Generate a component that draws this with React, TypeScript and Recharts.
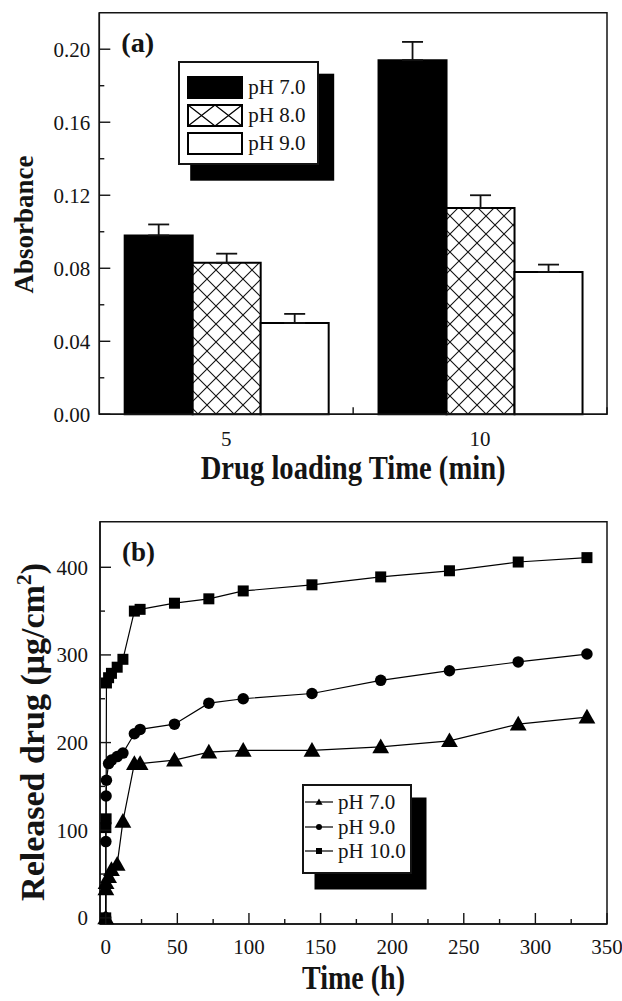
import React from 'react';
import {
  BarChart,
  Bar,
  ErrorBar,
  LineChart,
  Line,
  XAxis,
  YAxis,
  Legend,
  Label,
  ReferenceArea,
} from 'recharts';

// (a) absorbance vs drug loading time
const loadingTimes = ['5', '10'];
const barNames = ['pH 7.0', 'pH 8.0', 'pH 9.0'];
const absPh7 = [0.098, 0.194];
const absPh7Err = [0.006, 0.01];
const absPh8 = [0.083, 0.113];
const absPh8Err = [0.005, 0.007];
const absPh9 = [0.05, 0.078];
const absPh9Err = [0.005, 0.004];
const absTicks = [0, 0.02, 0.04, 0.06, 0.08, 0.1, 0.12, 0.14, 0.16, 0.18, 0.2];

// (b) released drug vs time
const lineNames = ['pH 7.0', 'pH 9.0', 'pH 10.0'];
const ph7Time = [0, 0.1, 0.25, 2, 4, 8, 12, 20, 24, 48, 72, 96, 144, 192, 240, 288, 336];
const ph7Release = [0, 33, 40, 47, 55, 61, 110, 176, 176, 180, 189, 191, 191, 195, 202, 221, 229];
const ph9Time = [0, 0.1, 0.25, 0.5, 2, 4, 8, 12, 20, 24, 48, 72, 96, 144, 192, 240, 288, 336];
const ph9Release = [0, 87, 139, 157, 176, 180, 184, 188, 210, 215, 221, 245, 250, 256, 271, 282, 292, 301];
const ph10Time = [0, 0.1, 0.25, 0.5, 2, 4, 8, 12, 20, 24, 48, 72, 96, 144, 192, 240, 288, 336];
const ph10Release = [0, 103, 113, 268, 274, 279, 286, 295, 350, 352, 359, 364, 373, 380, 389, 396, 406, 411];
const hourTicks = [0, 25, 50, 75, 100, 125, 150, 175, 200, 225, 250, 275, 300, 325, 350];
const releaseTicks = [0, 50, 100, 150, 200, 250, 300, 350, 400];

const SERIF = '"Liberation Serif", "Times New Roman", serif';
const INK = '#141414';

const barRows = loadingTimes.map((time, i) => ({
  time,
  ph7: absPh7[i],
  e7: [0, absPh7Err[i]],
  ph8: absPh8[i],
  e8: [0, absPh8Err[i]],
  ph9: absPh9[i],
  e9: [0, absPh9Err[i]],
}));

const zip = (ts: number[], vs: number[]) => ts.map((t, i) => ({ t, v: vs[i] }));
const ph7Rows = zip(ph7Time, ph7Release);
const ph9Rows = zip(ph9Time, ph9Release);
const ph10Rows = zip(ph10Time, ph10Release);

// keep legend rows in the order the series were listed, not alphabetical
const inOrder = (payload: any[] | undefined, names: string[]) =>
  names.map((n) => (payload || []).find((p) => p.value === n)).filter(Boolean);

// ticks point inwards, labels sit outside
const AbsTick = ({ x, y, payload }: any) => {
  const v = payload.value;
  const major = Math.round(v * 100) % 4 === 0;
  return (
    <g>
      <line x1={x} x2={x + (major ? 11 : 5)} y1={y} y2={y} stroke={INK} strokeWidth={1.4} />
      {major && (
        <text x={x - 9} y={y} dy="0.36em" textAnchor="end" fontFamily={SERIF} fontSize={21} fill={INK}>
          {v.toFixed(2)}
        </text>
      )}
    </g>
  );
};

const TimeTick = ({ x, y, payload }: any) => {
  const edge = payload.offset != null ? x + payload.offset : null;
  return (
    <g>
      {edge != null && <line x1={edge} x2={edge} y1={y} y2={y - 7} stroke={INK} strokeWidth={1.4} />}
      <text x={x} y={y + 24} dy="0.36em" textAnchor="middle" fontFamily={SERIF} fontSize={21} fill={INK}>
        {payload.value}
      </text>
    </g>
  );
};

const ReleaseTick = ({ x, y, payload }: any) => {
  const v = payload.value;
  const major = v % 100 === 0;
  return (
    <g>
      <line x1={x} x2={x + (major ? 11 : 5)} y1={y} y2={y} stroke={INK} strokeWidth={1.4} />
      {major && (
        <text x={x - 12} y={y} dy="0.36em" textAnchor="end" fontFamily={SERIF} fontSize={21} fill={INK}>
          {v}
        </text>
      )}
    </g>
  );
};

const HourTick = ({ x, y, payload }: any) => {
  const v = payload.value;
  const major = v % 50 === 0;
  return (
    <g>
      <line x1={x} x2={x} y1={y} y2={y - (major ? 11 : 5)} stroke={INK} strokeWidth={1.4} />
      {major && (
        <text x={x} y={y + 22} dy="0.36em" textAnchor="middle" fontFamily={SERIF} fontSize={21} fill={INK}>
          {v}
        </text>
      )}
    </g>
  );
};

const bottomTitle = (text: string, dy: number, len: number) => (props: any) => {
  const { x, y, width } = props.viewBox;
  return (
    <text
      x={x + width / 2}
      y={y + dy}
      dy="0.36em"
      textAnchor="middle"
      fontFamily={SERIF}
      fontWeight="bold"
      fontSize={33}
      textLength={len}
      lengthAdjust="spacingAndGlyphs"
      fill={INK}
    >
      {text}
    </text>
  );
};

const sideTitle = (content: React.ReactNode, cxOff: number, cyOff: number, size: number) => (props: any) => {
  const { x, y, height } = props.viewBox;
  const cx = x + cxOff;
  const cy = y + height / 2 + cyOff;
  return (
    <text
      x={cx}
      y={cy}
      dy="0.36em"
      textAnchor="middle"
      transform={`rotate(-90, ${cx}, ${cy})`}
      fontFamily={SERIF}
      fontWeight="bold"
      fontSize={size}
      fill={INK}
    >
      {content}
    </text>
  );
};

const panelTag = (text: string) => (props: any) => {
  const { x, y } = props.viewBox;
  return (
    <text
      x={x + 22}
      y={y + 29}
      dy="0.36em"
      fontFamily={SERIF}
      fontWeight="bold"
      fontSize={28}
      textLength={33}
      lengthAdjust="spacingAndGlyphs"
      fill={INK}
    >
      {text}
    </text>
  );
};

const BarSwatch = ({ kind }: { kind: number }) => (
  <svg width={56} height={23} style={{ display: 'block' }}>
    <rect x={1} y={1} width={54} height={21} fill={kind === 0 ? '#000' : '#fff'} stroke="#000" strokeWidth={2} />
    {kind === 1 && <path d="M1 1L28 22M28 1L1 22M28 1L55 22M55 1L28 22" stroke="#000" strokeWidth={1.2} />}
  </svg>
);

const BarKey = ({ payload }: any) => (
  <div
    style={{
      width: 141,
      height: 104,
      boxSizing: 'border-box',
      border: `2px solid ${INK}`,
      background: '#fff',
      boxShadow: '13.7px 14.2px 0 1.5px #000',
      paddingTop: 13,
      paddingLeft: 7,
    }}
  >
    {inOrder(payload, barNames).map((item: any) => (
      <div key={item.value} style={{ display: 'flex', alignItems: 'center', height: 23, marginBottom: 5 }}>
        <BarSwatch kind={barNames.indexOf(item.value)} />
        <span style={{ marginLeft: 5, fontFamily: SERIF, fontSize: 21, color: INK, lineHeight: '23px' }}>
          {item.value}
        </span>
      </div>
    ))}
  </div>
);

const marker = (kind: number, cx: number, cy: number, s: number, key?: any) => {
  if (kind === 0)
    return <polygon key={key} points={`${cx},${cy - s * 0.6} ${cx + s * 0.6},${cy + s * 0.45} ${cx - s * 0.6},${cy + s * 0.45}`} fill="#000" />;
  if (kind === 1) return <circle key={key} cx={cx} cy={cy} r={s * 0.5} fill="#000" />;
  return <rect key={key} x={cx - s / 2} y={cy - s / 2} width={s} height={s} fill="#000" />;
};

const dotOf = (kind: number, size: number) => (p: any) =>
  p.cx == null || p.cy == null ? <g key={p.index} /> : marker(kind, p.cx, p.cy, size, p.index);

const LineKey = ({ payload }: any) => (
  <div
    style={{
      width: 110,
      height: 90,
      boxSizing: 'border-box',
      border: `2px solid ${INK}`,
      background: '#fff',
      boxShadow: '13.5px 14.5px 0 1px #000',
      paddingTop: 4,
      paddingLeft: 1,
    }}
  >
    {inOrder(payload, lineNames).map((item: any) => (
      <div key={item.value} style={{ display: 'flex', alignItems: 'center', height: 24.5 }}>
        <svg width={28} height={24} style={{ display: 'block' }}>
          <line x1={0} x2={28} y1={12} y2={12} stroke="#000" strokeWidth={1.2} />
          {marker(lineNames.indexOf(item.value), 14, 12, 6)}
        </svg>
        <span style={{ marginLeft: 5, fontFamily: SERIF, fontSize: 21, color: INK, lineHeight: '24px' }}>
          {item.value}
        </span>
      </div>
    ))}
  </div>
);

const App = () => (
  <div style={{ position: 'absolute', left: 0, top: 0, width: 622, height: 1001, background: '#fff' }}>
    <div style={{ position: 'absolute', left: 0, top: 0 }}>
      <BarChart
        width={622}
        height={500}
        data={barRows}
        margin={{ top: 12.7, right: 15, left: 0, bottom: 25.7 }}
        barCategoryGap="10%"
        barGap={0}
      >
        <defs>
          <pattern id="xhatch" patternUnits="userSpaceOnUse" width={18} height={18}>
            <rect width={18} height={18} fill="#fff" />
            <path d="M0 0L18 18M18 0L0 18" stroke="#111" strokeWidth={1.1} />
          </pattern>
        </defs>
        <XAxis
          dataKey="time"
          height={60}
          tickSize={0}
          tickMargin={0}
          tickLine={false}
          interval={0}
          axisLine={{ stroke: INK, strokeWidth: 1.5 }}
          tick={<TimeTick />}
        >
          <Label content={bottomTitle('Drug loading Time (min)', 52.5, 305)} />
        </XAxis>
        <YAxis
          type="number"
          width={99.3}
          domain={[0, 0.22]}
          ticks={absTicks}
          interval={0}
          tickSize={0}
          tickMargin={0}
          tickLine={false}
          axisLine={{ stroke: INK, strokeWidth: 1.5 }}
          tick={<AbsTick />}
        >
          <Label content={sideTitle('Absorbance', 23, 11, 27)} />
        </YAxis>
        <ReferenceArea y1={0} y2={0.22} fill="none" stroke={INK} strokeWidth={1.5}>
          <Label content={panelTag('(a)')} />
        </ReferenceArea>
        <Legend
          layout="vertical"
          align="center"
          verticalAlign="middle"
          wrapperStyle={{ left: 178.3, top: 60.7, width: 141, height: 104 }}
          content={(props: any) => <BarKey payload={props.payload} />}
        />
        <Bar dataKey="ph7" name={barNames[0]} fill="#000" stroke="#000" strokeWidth={2} isAnimationActive={false}>
          <ErrorBar dataKey="e7" width={10.5} stroke="#111" strokeWidth={1.8} direction="y" />
        </Bar>
        <Bar dataKey="ph8" name={barNames[1]} fill="url(#xhatch)" stroke="#000" strokeWidth={2} isAnimationActive={false}>
          <ErrorBar dataKey="e8" width={10.5} stroke="#111" strokeWidth={1.8} direction="y" />
        </Bar>
        <Bar dataKey="ph9" name={barNames[2]} fill="#fff" stroke="#000" strokeWidth={2} isAnimationActive={false}>
          <ErrorBar dataKey="e9" width={10.5} stroke="#111" strokeWidth={1.8} direction="y" />
        </Bar>
      </BarChart>
    </div>

    <div style={{ position: 'absolute', left: 0, top: 500 }}>
      <LineChart width={622} height={501} margin={{ top: 21.7, right: 15, left: 0, bottom: 17 }}>
        <XAxis
          type="number"
          dataKey="t"
          domain={[-4, 350]}
          ticks={hourTicks}
          interval={0}
          height={60}
          tickSize={0}
          tickMargin={0}
          tickLine={false}
          axisLine={{ stroke: INK, strokeWidth: 1.5 }}
          tick={<HourTick />}
        >
          <Label content={bottomTitle('Time (h)', 53, 103)} />
        </XAxis>
        <YAxis
          type="number"
          dataKey="v"
          width={100}
          domain={[-7, 452]}
          ticks={releaseTicks}
          interval={0}
          tickSize={0}
          tickMargin={0}
          tickLine={false}
          axisLine={{ stroke: INK, strokeWidth: 1.5 }}
          tick={<ReleaseTick />}
        >
          <Label
            content={sideTitle(
              <>
                Released drug (μg/cm
                <tspan dy={-13} fontSize={22}>
                  2
                </tspan>
                <tspan dy={13}>)</tspan>
              </>,
              31.5,
              9,
              34,
            )}
          />
        </YAxis>
        <ReferenceArea x1={-4} x2={350} y1={-7} y2={452} fill="none" stroke={INK} strokeWidth={1.5}>
          <Label content={panelTag('(b)')} />
        </ReferenceArea>
        <Legend
          layout="vertical"
          align="center"
          verticalAlign="middle"
          wrapperStyle={{ left: 302, top: 284, width: 110, height: 90 }}
          content={(props: any) => <LineKey payload={props.payload} />}
        />
        <Line
          data={ph7Rows}
          dataKey="v"
          name={lineNames[0]}
          stroke="#000"
          strokeWidth={1.2}
          dot={dotOf(0, 14)}
          activeDot={false}
          isAnimationActive={false}
        />
        <Line
          data={ph9Rows}
          dataKey="v"
          name={lineNames[1]}
          stroke="#000"
          strokeWidth={1.2}
          dot={dotOf(1, 11.5)}
          activeDot={false}
          isAnimationActive={false}
        />
        <Line
          data={ph10Rows}
          dataKey="v"
          name={lineNames[2]}
          stroke="#000"
          strokeWidth={1.2}
          dot={dotOf(2, 11)}
          activeDot={false}
          isAnimationActive={false}
        />
      </LineChart>
    </div>
  </div>
);

export default App;
